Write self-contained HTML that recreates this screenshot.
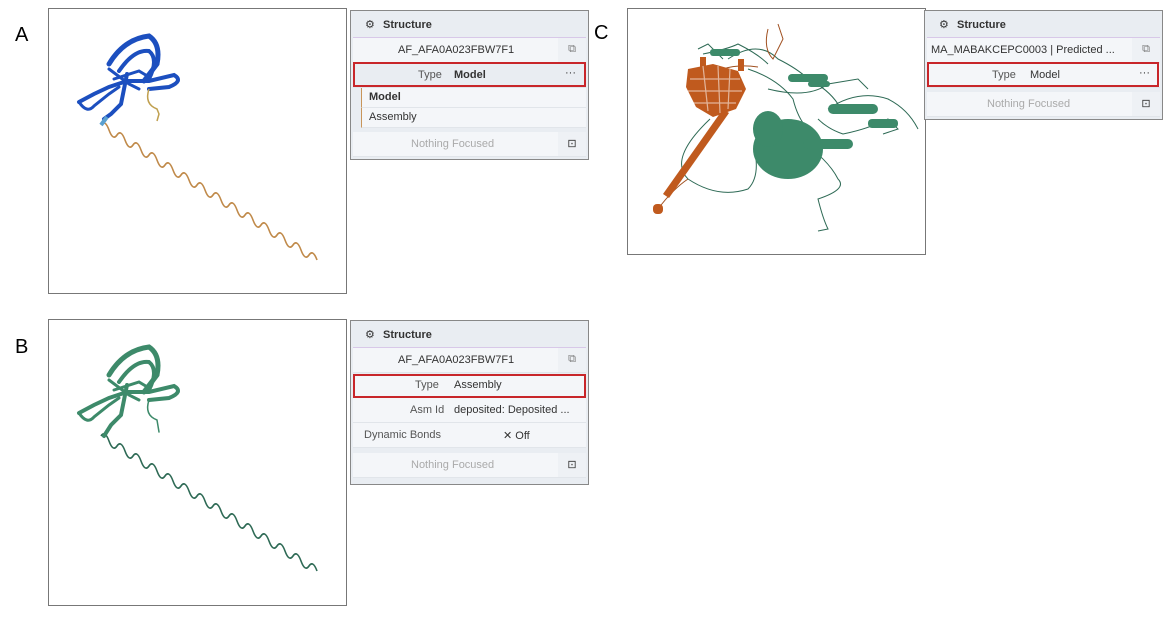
<!DOCTYPE html>
<html><head><meta charset="utf-8"><style>
body{margin:0;width:1170px;height:618px;background:#fff;position:relative;font-family:"Liberation Sans",Arial,sans-serif;overflow:hidden}
.lbl{position:absolute;font-size:20px;color:#000}
.box{position:absolute;border:1px solid #777;background:#fff}
.w{position:absolute;border:1px solid #888;background:#e9edf2;font-size:11px;color:#333}
.r{position:absolute;left:2px;right:2px;background:#f4f6f9;border-bottom:1px solid #e1e5ea}
.hd{position:absolute;left:2px;right:2px;top:1px;height:25px;background:#e9edf2;border-bottom:1px solid #d8c8e8;font-weight:bold;font-size:11px}
.red{position:absolute;border:2px solid #c8262a;box-sizing:border-box}
.t{position:absolute;white-space:nowrap}
.ic{position:absolute;right:0;top:0;bottom:0;width:28px;background:#eef1f5;text-align:center;color:#777}
</style></head><body>
<div class="lbl" style="left:15px;top:24px">A</div>
<div class="lbl" style="left:15px;top:336px">B</div>
<div class="lbl" style="left:594px;top:22px">C</div>

<div class="box" style="left:48px;top:8px;width:297px;height:284px">
<svg width="297" height="284">
<path d="M52,116 q4,-6 8,5 t8,5 t8,5 t8,5 t8,5 t8,5 t8,5 t8,5 t8,5 t8,5 t8,5 t8,5 t8,5 t8,5 t8,5 t8,5 t8,5 t8,5 t8,5 t8,5 t8,5 t8,5 t8,5 t8,5 t8,5 t8,5 t8,5" fill="none" stroke="#c08a4a" stroke-width="1.6"/>
<g fill="none" stroke="#1c4fbf" stroke-linecap="round">
<path d="M60,55 Q75,30 100,27 Q112,35 108,55 L95,72" stroke-width="5"/>
<path d="M70,62 Q85,40 100,42 Q110,50 100,70" stroke-width="4"/>
<path d="M30,93 L45,85 L60,78 L78,72 L100,72 L125,66 Q135,72 120,78 L100,80" stroke-width="4"/>
<path d="M30,93 Q38,105 45,97 L60,85 L70,78" stroke-width="3"/>
<path d="M78,65 L72,95 L62,105 L55,110" stroke-width="4"/>
<path d="M60,60 L80,75 L90,80" stroke-width="3"/>
<path d="M65,70 L90,62 L100,68" stroke-width="3"/>
</g>
<path d="M58,108 L52,116" stroke="#5aa0d0" stroke-width="4"/>
<path d="M100,80 Q95,95 108,100 L110,105 L108,112" fill="none" stroke="#c0a050" stroke-width="1.5"/>
</svg></div>

<div class="box" style="left:48px;top:319px;width:297px;height:285px">
<svg width="297" height="285">
<path d="M52,116 q4,-6 8,5 t8,5 t8,5 t8,5 t8,5 t8,5 t8,5 t8,5 t8,5 t8,5 t8,5 t8,5 t8,5 t8,5 t8,5 t8,5 t8,5 t8,5 t8,5 t8,5 t8,5 t8,5 t8,5 t8,5 t8,5 t8,5 t8,5" fill="none" stroke="#2e6a55" stroke-width="1.6"/>
<g fill="none" stroke="#3d8a6a" stroke-linecap="round">
<path d="M60,55 Q75,30 100,27 Q112,35 108,55 L95,72" stroke-width="5"/>
<path d="M70,62 Q85,40 100,42 Q110,50 100,70" stroke-width="4"/>
<path d="M30,93 L45,85 L60,78 L78,72 L100,72 L125,66 Q135,72 120,78 L100,80" stroke-width="4"/>
<path d="M30,93 Q38,105 45,97 L60,85 L70,78" stroke-width="3"/>
<path d="M78,65 L72,95 L62,105 L55,116" stroke-width="4"/>
<path d="M60,60 L80,75 L90,80" stroke-width="3"/>
<path d="M65,70 L90,62 L100,68" stroke-width="3"/>
<path d="M100,80 Q95,95 108,100 L110,112" stroke-width="1.5"/>
</g></svg></div>

<div class="box" style="left:627px;top:8px;width:297px;height:245px">
<svg width="297" height="245">
<g fill="none" stroke="#2e6a55" stroke-width="1">
<path d="M82,110 Q40,150 60,170 Q90,190 120,180 Q130,170 128,150"/>
<path d="M170,130 Q200,150 210,170 Q220,180 190,190 Q195,210 200,220 L190,222"/>
<path d="M100,50 Q130,30 150,50 Q170,60 180,70 Q200,80 210,95"/>
<path d="M190,110 Q200,120 215,125 Q240,120 260,110 L270,120 L255,125"/>
<path d="M75,45 Q100,40 110,35 Q130,45 140,55"/>
<path d="M120,60 Q150,70 165,90 Q170,110 180,120"/>
<path d="M200,100 Q230,80 260,90 Q280,100 290,120"/>
<path d="M140,80 Q180,90 200,75 L230,70 L240,80"/>
<path d="M70,40 L80,35 L95,50"/>
</g>
<g fill="none" stroke="#a05020" stroke-width="1">
<path d="M30,200 Q45,180 60,170"/>
<path d="M140,20 Q135,40 145,50 L155,30 L150,15"/>
<path d="M95,60 Q110,55 130,58"/>
</g>
<g fill="#3d8a6a">
<ellipse cx="160" cy="140" rx="35" ry="30"/>
<ellipse cx="140" cy="120" rx="15" ry="18"/>
<rect x="200" y="95" width="50" height="10" rx="5"/>
<rect x="175" y="130" width="50" height="10" rx="5"/>
<rect x="240" y="110" width="30" height="9" rx="4"/>
<rect x="160" y="65" width="40" height="8" rx="4"/>
<rect x="82" y="40" width="30" height="7" rx="3"/>
<rect x="180" y="72" width="22" height="6" rx="3"/>
</g>
<g fill="#c05a1e">
<path d="M60,60 L85,55 L110,62 L118,80 L108,100 L85,108 L68,98 L58,78 Z"/>
<path d="M95,100 L35,185 L41,189 L101,104 Z"/>
<rect x="25" y="195" width="10" height="10" rx="4"/>
<rect x="72" y="48" width="6" height="10"/>
<rect x="110" y="50" width="6" height="12"/>
</g>
<g stroke="#fff" stroke-width="1.2" opacity=".55">
<path d="M62,70 L112,70 M60,82 L114,82 M65,94 L108,94 M75,57 L80,102 M90,57 L92,104 M102,60 L100,100"/>
</g>
</svg></div>

<!-- Widget A -->
<div class="w" style="left:350px;top:10px;width:237px;height:148px">
<div class="hd"><span class="t" style="left:12px;top:6px;font-weight:normal">⚙</span><span class="t" style="left:30px;top:7px">Structure</span></div>
<div class="r" style="top:27px;height:24px"><span class="t" style="left:45px;top:6px">AF_AFA0A023FBW7F1</span><div class="ic"><span style="position:relative;top:5px">⧉</span></div></div>
<div class="r" style="top:53px;height:23px;background:#e9edf2"><span class="t" style="left:65px;top:5px;color:#555">Type</span><span class="t" style="left:101px;top:5px;font-weight:bold">Model</span><span class="t" style="right:10px;top:3px">···</span></div>
<div class="r" style="top:77px;height:19px;left:10px;border-left:1px solid #c8955a"><span class="t" style="left:7px;top:3px;font-weight:bold">Model</span></div>
<div class="r" style="top:97px;height:19px;left:10px;border-left:1px solid #c8955a"><span class="t" style="left:7px;top:3px">Assembly</span></div>
<div class="r" style="top:121px;height:24px"><span class="t" style="left:58px;top:6px;color:#aaa">Nothing Focused</span><div class="ic"><span style="position:relative;top:5px;color:#333">⊡</span></div></div>
</div>
<div class="red" style="left:353px;top:62px;width:233px;height:25px"></div>

<!-- Widget B -->
<div class="w" style="left:350px;top:320px;width:237px;height:163px">
<div class="hd"><span class="t" style="left:12px;top:6px;font-weight:normal">⚙</span><span class="t" style="left:30px;top:7px">Structure</span></div>
<div class="r" style="top:27px;height:24px"><span class="t" style="left:45px;top:6px">AF_AFA0A023FBW7F1</span><div class="ic"><span style="position:relative;top:5px">⧉</span></div></div>
<div class="r" style="top:53px;height:23px"><span class="t" style="left:62px;top:5px;color:#555">Type</span><span class="t" style="left:101px;top:5px">Assembly</span></div>
<div class="r" style="top:77px;height:24px"><span class="t" style="left:57px;top:6px;color:#555">Asm Id</span><span class="t" style="left:101px;top:6px">deposited: Deposited ...</span></div>
<div class="r" style="top:102px;height:24px"><span class="t" style="left:11px;top:6px;color:#555">Dynamic Bonds</span><span class="t" style="left:150px;top:6px">✕ Off</span></div>
<div class="r" style="top:132px;height:24px"><span class="t" style="left:58px;top:6px;color:#aaa">Nothing Focused</span><div class="ic"><span style="position:relative;top:5px;color:#333">⊡</span></div></div>
</div>
<div class="red" style="left:353px;top:374px;width:233px;height:24px"></div>

<!-- Widget C -->
<div class="w" style="left:924px;top:10px;width:237px;height:108px">
<div class="hd"><span class="t" style="left:12px;top:6px;font-weight:normal">⚙</span><span class="t" style="left:30px;top:7px">Structure</span></div>
<div class="r" style="top:27px;height:24px"><span class="t" style="left:4px;top:6px">MA_MABAKCEPC0003 | Predicted ...</span><div class="ic"><span style="position:relative;top:5px">⧉</span></div></div>
<div class="r" style="top:53px;height:23px"><span class="t" style="left:65px;top:5px;color:#555">Type</span><span class="t" style="left:103px;top:5px">Model</span><span class="t" style="right:10px;top:3px">···</span></div>
<div class="r" style="top:81px;height:24px"><span class="t" style="left:60px;top:6px;color:#aaa">Nothing Focused</span><div class="ic"><span style="position:relative;top:5px;color:#333">⊡</span></div></div>
</div>
<div class="red" style="left:927px;top:62px;width:232px;height:25px"></div>
</body></html>
